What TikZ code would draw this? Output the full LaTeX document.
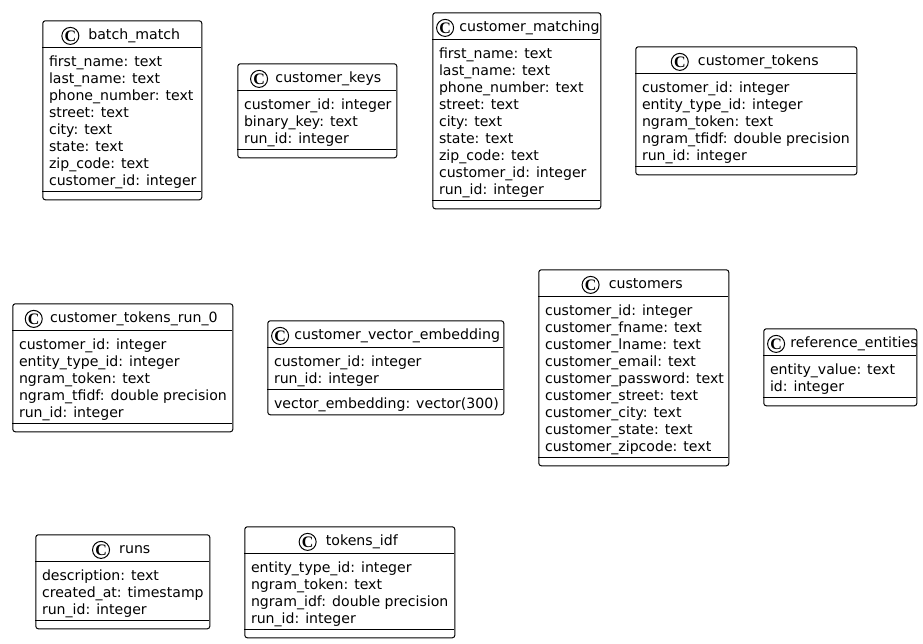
\documentclass[tikz,border=0pt]{standalone}
\usepackage{fontspec}
\setmainfont{DejaVu Sans}
\newfontfamily\iconfont{Liberation Serif}
\usetikzlibrary{positioning}
\tikzset{
	classbox/.style={draw, line width=1pt, rounded corners=2.5pt, fill=white, anchor=north west, inner sep=0pt},
	classtitle/.style={inner sep=0pt, font=\fontsize{14.15}{17}\selectfont, text height=10.5pt, text depth=3pt},
	classicon/.style={draw, circle, line width=1pt, inner sep=0pt, minimum size=17pt, font=\iconfont\fontsize{16}{16}\selectfont\bfseries},
	classfields/.style={inner sep=0pt, anchor=north west, align=left, font=\fontsize{14.1}{17}\selectfont},
	classrule/.style={line width=1pt}
}
\newlength{\titlew}
% id, x, y, width, fields, methods, title, field lines, method lines
\newcommand{\umlclass}[9]{
	\pgfmathsetmacro{\ysepa}{#3+27}
	\pgfmathsetmacro{\ysepb}{\ysepa+17*#5+8}
	\pgfmathsetmacro{\ybot}{\ysepb+(#6>0 ? 17*#6 : 0)+8}
	% spare header width goes mostly to the outer margins
	\settowidth{\titlew}{\pgfinterruptpicture\normalfont\fontsize{14.15}{17}\selectfont #7\endpgfinterruptpicture}
	\pgfmathsetmacro{\spare}{max(#4-33-\titlew,0)}
	\pgfmathsetmacro{\titlegap}{min(5+0.11*\spare,9)}
	\pgfmathsetmacro{\titlex}{#2+4+(\spare-\titlegap+5)/2+18+\titlegap+\titlew/2}
	\node[classbox, minimum width=#4pt, minimum height={(\ybot-#3)*1pt}] (#1) at (#2,#3) {};
	\node[classtitle] (#1title) at (\titlex,#3+15.6) {#7};
	\node[classicon, left=\titlegap pt of #1title] (#1icon) {C};
	\draw[classrule] (#2,\ysepa) -- (#2+#4,\ysepa);
	\draw[classrule] (#2,\ysepb) -- (#2+#4,\ysepb);
	\node[classfields] (#1fields) at (#2+6.5,\ysepa+8) {#8};
	\node[classfields] (#1methods) at (#2+6.5,\ysepb+8) {#9};
}
\begin{document}
\begin{tikzpicture}[x=1pt, y=-1pt]
	\useasboundingbox (0.7,0.7) rectangle (923.7,644.7);
	\fill[white] (0.7,0.7) rectangle (923.7,644.7);
	% first row
	\umlclass{batchmatch}{43}{21}{159}{8}{0}{batch\_match}{first\_name: text\\last\_name: text\\phone\_number: text\\street: text\\city: text\\state: text\\zip\_code: text\\customer\_id: integer}{}
	\umlclass{customerkeys}{238}{64}{159}{3}{0}{customer\_keys}{customer\_id: integer\\binary\_key: text\\run\_id: integer}{}
	\umlclass{customermatching}{433}{13}{168}{9}{0}{customer\_matching}{first\_name: text\\last\_name: text\\phone\_number: text\\street: text\\city: text\\state: text\\zip\_code: text\\customer\_id: integer\\run\_id: integer}{}
	\umlclass{customertokens}{636}{47}{221}{5}{0}{customer\_tokens}{customer\_id: integer\\entity\_type\_id: integer\\ngram\_token: text\\ngram\_tfidf: double precision\\run\_id: integer}{}
	% second row
	\umlclass{tokensrun}{13}{304}{220}{5}{0}{customer\_tokens\_run\_0}{customer\_id: integer\\entity\_type\_id: integer\\ngram\_token: text\\ngram\_tfidf: double precision\\run\_id: integer}{}
	\umlclass{vectorembedding}{268}{321}{236}{2}{1}{customer\_vector\_embedding}{customer\_id: integer\\run\_id: integer}{vector\_embedding: vector(300)}
	\umlclass{customers}{539}{270}{190}{9}{0}{customers}{customer\_id: integer\\customer\_fname: text\\customer\_lname: text\\customer\_email: text\\customer\_password: text\\customer\_street: text\\customer\_city: text\\customer\_state: text\\customer\_zipcode: text}{}
	\umlclass{referenceentities}{764}{329}{153}{2}{0}{reference\_entities}{entity\_value: text\\id: integer}{}
	% third row
	\umlclass{runs}{36}{535}{174}{3}{0}{runs}{description: text\\created\_at: timestamp\\run\_id: integer}{}
	\umlclass{tokensidf}{245}{527}{210}{4}{0}{tokens\_idf}{entity\_type\_id: integer\\ngram\_token: text\\ngram\_idf: double precision\\run\_id: integer}{}
\end{tikzpicture}
\end{document}
